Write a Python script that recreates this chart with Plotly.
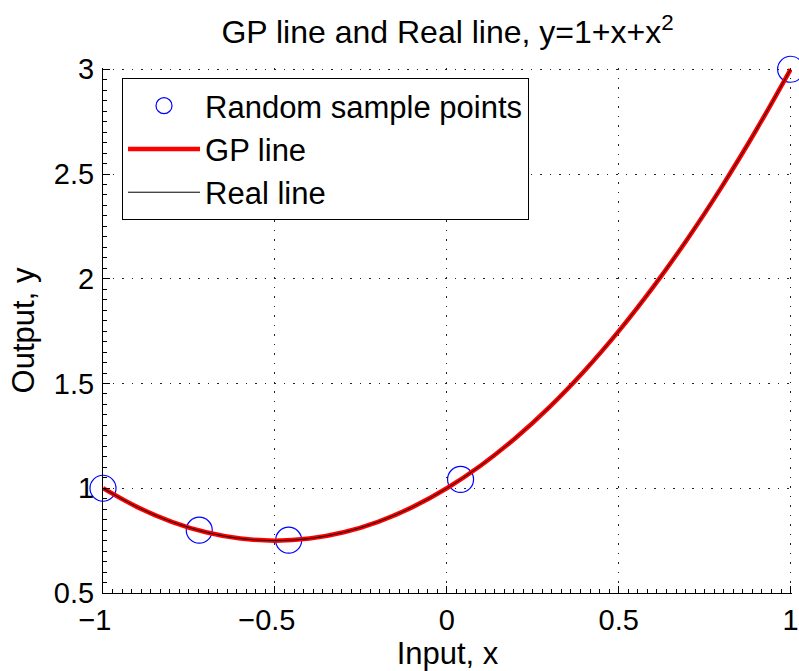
import plotly.graph_objects as go

# Sample points
sample_x = [-1.0, -0.72, -0.46, 0.04, 1.0]
sample_y = [1.0, 0.80, 0.752, 1.042, 3.0]

# Line values
line_x = [-1.0, -0.9, -0.8, -0.7, -0.6, -0.5, -0.4, -0.3, -0.2, -0.1, 0.0,
          0.1, 0.2, 0.3, 0.4, 0.5, 0.6, 0.7, 0.8, 0.9, 1.0]
gp_y = [1.0, 0.91, 0.84, 0.79, 0.76, 0.75, 0.76, 0.79, 0.84, 0.91, 1.0,
        1.11, 1.24, 1.39, 1.56, 1.75, 1.96, 2.19, 2.44, 2.71, 3.0]
real_y = [1.0, 0.91, 0.84, 0.79, 0.76, 0.75, 0.76, 0.79, 0.84, 0.91, 1.0,
          1.11, 1.24, 1.39, 1.56, 1.75, 1.96, 2.19, 2.44, 2.71, 3.0]

x_ticks = [-1, -0.5, 0, 0.5, 1]
x_tick_labels = ["\u22121\u00a0\u00a0", "\u22120.5\u00a0\u00a0", "0", "0.5", "1"]
y_ticks = [0.5, 1, 1.5, 2, 2.5, 3]
y_tick_labels = ["0.5", "1", "1.5", "2", "2.5", "3"]

FONT = "Liberation Sans, Arial, Helvetica, sans-serif"
TICK_FS = 29
TEXT_FS = 31

fig = go.Figure()
fig.add_trace(go.Scatter(
    x=sample_x, y=sample_y, mode="markers", name="Random sample points",
    marker=dict(symbol="circle-open", size=26, color="#0000ff", line=dict(width=1.2, color="#0000ff")),
    cliponaxis=False,
))
fig.add_trace(go.Scatter(
    x=line_x, y=gp_y, mode="lines", name="GP line",
    line=dict(color="#ff0000", width=4.5, shape="spline"),
))
fig.add_trace(go.Scatter(
    x=line_x, y=real_y, mode="lines", name="Real line",
    line=dict(color="#000000", width=1, shape="spline"),
))

fig.update_layout(
    width=799, height=671,
    margin=dict(l=103, r=7, t=68, b=78, autoexpand=False),
    paper_bgcolor="white", plot_bgcolor="white",
    font=dict(family=FONT, size=TEXT_FS, color="black"),
    title=dict(text="GP line and Real line, y=1+x+x<sup>2</sup>", x=0.5601, xanchor="center",
               y=0.952, yanchor="middle", font=dict(size=32, family=FONT, color="black")),
    showlegend=True,
    legend=dict(x=0.0276, y=0.981, xanchor="left", yanchor="top",
                bordercolor="black", borderwidth=1, bgcolor="white",
                font=dict(size=TEXT_FS, family=FONT, color="black"),
                tracegroupgap=0, itemwidth=72),
)
fig.update_xaxes(
    range=[-1, 1.004], tickmode="array", tickvals=x_ticks, ticktext=x_tick_labels,
    tickfont=dict(size=TICK_FS, family=FONT, color="black"), automargin=False,
    showline=True, linecolor="black", linewidth=1, mirror=False,
    ticks="inside", ticklen=7, tickcolor="black", ticklabelstandoff=1,
    showgrid=True, gridcolor="#222222", griddash="1.5px,8px", gridwidth=1,
    zeroline=False,
    minor=dict(ticks="inside", ticklen=4, dtick=1 / 36, tick0=-1, tickcolor="black", showgrid=False),
    title=dict(text="Input, x", standoff=0, font=dict(size=TEXT_FS, family=FONT, color="black")),
)
fig.update_yaxes(
    range=[0.5, 3.006], tickmode="array", tickvals=y_ticks, ticktext=y_tick_labels,
    tickfont=dict(size=TICK_FS, family=FONT, color="black"), automargin=False,
    showline=True, linecolor="black", linewidth=1, mirror=False,
    ticks="inside", ticklen=7, tickcolor="black", ticklabelstandoff=2,
    showgrid=True, gridcolor="#222222", griddash="1.5px,8px", gridwidth=1,
    zeroline=False,
    minor=dict(ticks="inside", ticklen=4, dtick=0.05, tickcolor="black", showgrid=False),
    title=dict(text="Output, y", standoff=10, font=dict(size=TEXT_FS, family=FONT, color="black")),
)

fig.write_html("out.html")
